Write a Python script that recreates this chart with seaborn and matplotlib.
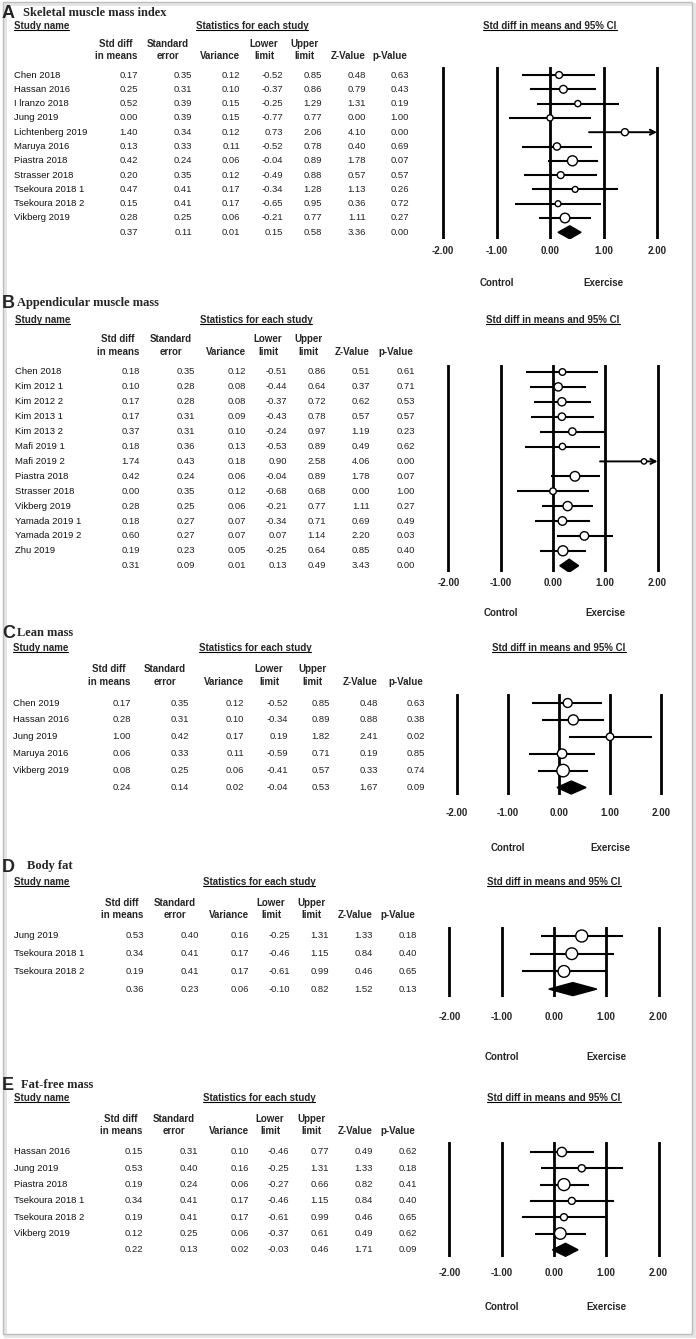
import numpy as np
import matplotlib
matplotlib.use("Agg")
import matplotlib.pyplot as plt
import seaborn as sns
from matplotlib import transforms
from matplotlib.lines import Line2D
from matplotlib.patches import Rectangle

# ---------------- DATA ----------------
# A  Skeletal muscle mass index
smmi_study = ["Chen 2018", "Hassan 2016", "I lranzo 2018", "Jung 2019", "Lichtenberg 2019",
              "Maruya 2016", "Piastra 2018", "Strasser 2018", "Tsekoura 2018 1",
              "Tsekoura 2018 2", "Vikberg 2019"]
smmi_smd = [0.17, 0.25, 0.52, 0.00, 1.40, 0.13, 0.42, 0.20, 0.47, 0.15, 0.28]
smmi_se = [0.35, 0.31, 0.39, 0.39, 0.34, 0.33, 0.24, 0.35, 0.41, 0.41, 0.25]
smmi_var = [0.12, 0.10, 0.15, 0.15, 0.12, 0.11, 0.06, 0.12, 0.17, 0.17, 0.06]
smmi_lower = [-0.52, -0.37, -0.25, -0.77, 0.73, -0.52, -0.04, -0.49, -0.34, -0.65, -0.21]
smmi_upper = [0.85, 0.86, 1.29, 0.77, 2.06, 0.78, 0.89, 0.88, 1.28, 0.95, 0.77]
smmi_z = [0.48, 0.79, 1.31, 0.00, 4.10, 0.40, 1.78, 0.57, 1.13, 0.36, 1.11]
smmi_p = [0.63, 0.43, 0.19, 1.00, 0.00, 0.69, 0.07, 0.57, 0.26, 0.72, 0.27]
smmi_summary = [0.37, 0.11, 0.01, 0.15, 0.58, 3.36, 0.00]

# B  Appendicular muscle mass
amm_study = ["Chen 2018", "Kim 2012 1", "Kim 2012 2", "Kim 2013 1", "Kim 2013 2", "Mafi 2019 1",
             "Mafi 2019 2", "Piastra 2018", "Strasser 2018", "Vikberg 2019", "Yamada 2019 1",
             "Yamada 2019 2", "Zhu 2019"]
amm_smd = [0.18, 0.10, 0.17, 0.17, 0.37, 0.18, 1.74, 0.42, 0.00, 0.28, 0.18, 0.60, 0.19]
amm_se = [0.35, 0.28, 0.28, 0.31, 0.31, 0.36, 0.43, 0.24, 0.35, 0.25, 0.27, 0.27, 0.23]
amm_var = [0.12, 0.08, 0.08, 0.09, 0.10, 0.13, 0.18, 0.06, 0.12, 0.06, 0.07, 0.07, 0.05]
amm_lower = [-0.51, -0.44, -0.37, -0.43, -0.24, -0.53, 0.90, -0.04, -0.68, -0.21, -0.34, 0.07, -0.25]
amm_upper = [0.86, 0.64, 0.72, 0.78, 0.97, 0.89, 2.58, 0.89, 0.68, 0.77, 0.71, 1.14, 0.64]
amm_z = [0.51, 0.37, 0.62, 0.57, 1.19, 0.49, 4.06, 1.78, 0.00, 1.11, 0.69, 2.20, 0.85]
amm_p = [0.61, 0.71, 0.53, 0.57, 0.23, 0.62, 0.00, 0.07, 1.00, 0.27, 0.49, 0.03, 0.40]
amm_summary = [0.31, 0.09, 0.01, 0.13, 0.49, 3.43, 0.00]

# C  Lean mass
lean_study = ["Chen 2019", "Hassan 2016", "Jung 2019", "Maruya 2016", "Vikberg 2019"]
lean_smd = [0.17, 0.28, 1.00, 0.06, 0.08]
lean_se = [0.35, 0.31, 0.42, 0.33, 0.25]
lean_var = [0.12, 0.10, 0.17, 0.11, 0.06]
lean_lower = [-0.52, -0.34, 0.19, -0.59, -0.41]
lean_upper = [0.85, 0.89, 1.82, 0.71, 0.57]
lean_z = [0.48, 0.88, 2.41, 0.19, 0.33]
lean_p = [0.63, 0.38, 0.02, 0.85, 0.74]
lean_summary = [0.24, 0.14, 0.02, -0.04, 0.53, 1.67, 0.09]

# D  Body fat
fat_study = ["Jung 2019", "Tsekoura 2018 1", "Tsekoura 2018 2"]
fat_smd = [0.53, 0.34, 0.19]
fat_se = [0.40, 0.41, 0.41]
fat_var = [0.16, 0.17, 0.17]
fat_lower = [-0.25, -0.46, -0.61]
fat_upper = [1.31, 1.15, 0.99]
fat_z = [1.33, 0.84, 0.46]
fat_p = [0.18, 0.40, 0.65]
fat_summary = [0.36, 0.23, 0.06, -0.10, 0.82, 1.52, 0.13]

# E  Fat-free mass
ffm_study = ["Hassan 2016", "Jung 2019", "Piastra 2018", "Tsekoura 2018 1", "Tsekoura 2018 2",
             "Vikberg 2019"]
ffm_smd = [0.15, 0.53, 0.19, 0.34, 0.19, 0.12]
ffm_se = [0.31, 0.40, 0.24, 0.41, 0.41, 0.25]
ffm_var = [0.10, 0.16, 0.06, 0.17, 0.17, 0.06]
ffm_lower = [-0.46, -0.25, -0.27, -0.46, -0.61, -0.37]
ffm_upper = [0.77, 1.31, 0.66, 1.15, 0.99, 0.61]
ffm_z = [0.49, 1.33, 0.82, 0.84, 0.46, 0.49]
ffm_p = [0.62, 0.18, 0.41, 0.40, 0.65, 0.62]
ffm_summary = [0.22, 0.13, 0.02, -0.03, 0.46, 1.71, 0.09]

panel_letters = ["A", "B", "C", "D", "E"]
panel_titles = ["Skeletal muscle mass index", "Appendicular muscle mass", "Lean mass",
                "Body fat", "Fat-free mass"]
col_header1 = ["Std diff", "Standard", "", "Lower", "Upper", "", ""]
col_header2 = ["in means", "error", "Variance", "limit", "limit", "Z-Value", "p-Value"]
tick_values = [-2, -1, 0, 1, 2]
tick_labels = ["-2.00", "-1.00", "0.00", "1.00", "2.00"]

# ---------------- LAYOUT (pixels) ----------------
W, H = 696, 1339
hdr_off = [22, 24, 20, 19, 18, 18, 19]
layouts = [
    dict(title_x=23, title_y=13, head_y=26, h1=44, h2=56, row0=75, step=14.3,
         right=[138, 192, 240, 283, 322, 366, 409], name_x=14, stats_x=252,
         x0=550, scale=53.5, top=67, bot=239, tick_y=250, ctrl_y=283, dmax=10),
    dict(title_x=17, title_y=303, head_y=320, h1=339, h2=352, row0=372, step=14.9,
         right=[140, 195, 246, 287, 326, 370, 415], name_x=15, stats_x=256,
         x0=553, scale=52.3, top=365, bot=572, tick_y=583, ctrl_y=613, dmax=10),
    dict(title_x=17, title_y=633, head_y=648, h1=669, h2=682, row0=703, step=16.9,
         right=[131, 189, 244, 288, 330, 378, 425], name_x=13, stats_x=255,
         x0=559, scale=51.0, top=694, bot=795, tick_y=812, ctrl_y=848, dmax=12.5),
    dict(title_x=27, title_y=866, head_y=882, h1=903, h2=915, row0=936, step=17.7,
         right=[144, 199, 249, 290, 329, 373, 417], name_x=14, stats_x=259,
         x0=554, scale=52.3, top=927, bot=997, tick_y=1016, ctrl_y=1057, dmax=12),
    dict(title_x=21, title_y=1085, head_y=1098, h1=1119, h2=1131, row0=1152, step=16.3,
         right=[143, 198, 249, 289, 329, 373, 417], name_x=14, stats_x=259,
         x0=554, scale=52.3, top=1142, bot=1257, tick_y=1272, ctrl_y=1307, dmax=12),
]

panels = [
    (smmi_study, smmi_smd, smmi_se, smmi_var, smmi_lower, smmi_upper, smmi_z, smmi_p, smmi_summary),
    (amm_study, amm_smd, amm_se, amm_var, amm_lower, amm_upper, amm_z, amm_p, amm_summary),
    (lean_study, lean_smd, lean_se, lean_var, lean_lower, lean_upper, lean_z, lean_p, lean_summary),
    (fat_study, fat_smd, fat_se, fat_var, fat_lower, fat_upper, fat_z, fat_p, fat_summary),
    (ffm_study, ffm_smd, ffm_se, ffm_var, ffm_lower, ffm_upper, ffm_z, ffm_p, ffm_summary),
]

sns.set_theme(style="white")
plt.rcParams["font.family"] = ["Liberation Sans", "DejaVu Sans"]

fig = plt.figure(figsize=(W / 100, H / 100), dpi=100)
fig.patch.set_facecolor("white")

def fy(y):
    return 1 - y / H

underlined = []
BODY = 6.8
HEAD = 7.0
XMIN, XMAX = -2.25, 2.25

for pi, (lay, data) in enumerate(zip(layouts, panels)):
    study, smd, se, var, lower, upper, zv, pv, summ = data
    n = len(study)

    # panel letter and title
    fig.text(2 / W, fy(lay["title_y"] + 1), panel_letters[pi], fontsize=13, fontweight="bold",
             ha="left", va="center", family=["Liberation Sans", "DejaVu Sans"])
    fig.text(lay["title_x"] / W, fy(lay["title_y"]), panel_titles[pi], fontsize=9,
             fontweight="bold", ha="left", va="center", family=["Liberation Serif", "DejaVu Serif"])

    # headers
    t = fig.text(lay["name_x"] / W, fy(lay["head_y"]), "Study name", fontsize=HEAD,
                 fontweight="bold", ha="left", va="center")
    underlined.append(t)
    t = fig.text(lay["stats_x"] / W, fy(lay["head_y"]), "Statistics for each study",
                 fontsize=HEAD, fontweight="bold", ha="center", va="center")
    underlined.append(t)
    for ci in range(7):
        cx = (lay["right"][ci] - hdr_off[ci]) / W
        if col_header1[ci]:
            fig.text(cx, fy(lay["h1"]), col_header1[ci], fontsize=HEAD, fontweight="bold",
                     ha="center", va="center")
        fig.text(cx, fy(lay["h2"]), col_header2[ci], fontsize=HEAD, fontweight="bold",
                 ha="center", va="center")

    # table rows
    cols = [smd, se, var, lower, upper, zv, pv]
    for ri in range(n + 1):
        yy = fy(lay["row0"] + lay["step"] * ri)
        if ri < n:
            fig.text(lay["name_x"] / W, yy, study[ri], fontsize=BODY, ha="left", va="center",
                     color="#111111")
            vals = [c[ri] for c in cols]
        else:
            vals = summ
        for ci, v in enumerate(vals):
            fig.text(lay["right"][ci] / W, yy, f"{v:.2f}", fontsize=BODY, ha="right",
                     va="center", color="#222222")

    # forest axes
    L = lay["x0"] + XMIN * lay["scale"]
    R = lay["x0"] + XMAX * lay["scale"]
    ax = fig.add_axes([L / W, fy(lay["bot"]), (R - L) / W, (lay["bot"] - lay["top"]) / H])
    ax.patch.set_alpha(0)
    ax.set_xlim(XMIN, XMAX)
    ytop = (lay["top"] - lay["row0"]) / lay["step"]
    ybot = (lay["bot"] - lay["row0"]) / lay["step"]
    ax.set_ylim(ybot, ytop)
    for s in ax.spines.values():
        s.set_visible(False)
    ax.set_yticks([])
    for tv in tick_values:
        ax.axvline(tv, color="black", lw=2.0, zorder=1)
    pad_pt = (lay["tick_y"] - lay["bot"] - 4.5) * 0.72
    ax.set_xticks(tick_values)
    ax.set_xticklabels(tick_labels, fontsize=HEAD, fontweight="bold")
    ax.tick_params(axis="x", length=0, pad=pad_pt)

    rows = np.arange(n)
    for ri in range(n):
        lo, hi = lower[ri], upper[ri]
        if hi > 2:
            ax.annotate("", xy=(2, ri), xytext=(lo, ri),
                        arrowprops=dict(arrowstyle="->", lw=1.4, color="black",
                                        shrinkA=0, shrinkB=0, mutation_scale=9), zorder=2)
        else:
            ax.hlines(ri, lo, hi, color="black", lw=1.5, zorder=2)

    se_arr = np.array(se)
    diam = lay["dmax"] * se_arr.min() / se_arr
    sizes = (diam * 0.72) ** 2
    sns.scatterplot(x=smd, y=rows, s=sizes, marker="o", color="white", edgecolor="black",
                    linewidth=1.0, ax=ax, legend=False, zorder=3)
    ax.set_xlabel("")
    ax.set_ylabel("")

    # summary diamond
    hh = 6.5 / lay["step"]
    m, lo, hi = summ[0], summ[3], summ[4]
    ax.fill([lo, m, hi, m], [n, n - hh, n, n + hh], color="black", zorder=3)

    # header above forest and Control / Exercise labels
    tr = transforms.blended_transform_factory(ax.transData, fig.transFigure)
    t = ax.text(0, fy(lay["head_y"]), "Std diff in means and 95% CI", transform=tr,
                fontsize=HEAD, fontweight="bold", ha="center", va="center")
    underlined.append(t)
    ax.text(-1, fy(lay["ctrl_y"]), "Control", transform=tr, fontsize=HEAD,
            fontweight="bold", ha="center", va="center")
    ax.text(1, fy(lay["ctrl_y"]), "Exercise", transform=tr, fontsize=HEAD,
            fontweight="bold", ha="center", va="center")

# underlines
fig.canvas.draw()
rend = fig.canvas.get_renderer()
for t in underlined:
    bb = t.get_window_extent(rend)
    yl = (bb.y0 + 1.2) / H
    fig.add_artist(Line2D([bb.x0 / W, bb.x1 / W], [yl, yl], transform=fig.transFigure,
                          color="black", lw=0.8))

# frame with soft shadow
fig.add_artist(Rectangle((5 / W, 1 - 1336 / H), 689 / W, 1332 / H, transform=fig.transFigure,
                         fill=False, edgecolor="#e4e4e4", lw=2.0))
fig.add_artist(Rectangle((3 / W, 1 - 1334 / H), 689 / W, 1332 / H, transform=fig.transFigure,
                         fill=False, edgecolor="#bdbdbd", lw=1.0))

fig.savefig("out.png", dpi=100)
